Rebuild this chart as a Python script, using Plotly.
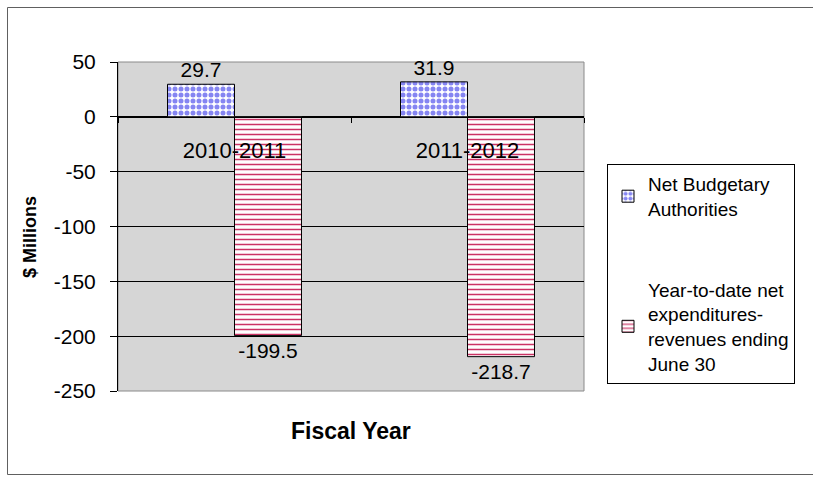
import plotly.graph_objects as go

categories = ["2010-2011", "2011-2012"]
series_names = ["Net Budgetary<br>Authorities",
                "Year-to-date net<br>expenditures-<br>revenues ending<br>June 30"]
net_budgetary = [29.7, 31.9]
ytd_net = [-199.5, -218.7]
y_ticks = [50, 0, -50, -100, -150, -200, -250]
y_tick_labels = [str(v) for v in y_ticks]

FONT = "Liberation Sans, Arial, sans-serif"
W, H = 813, 477
L, R, T, B = 118, 584, 62, 391

def px_x(p):
    return (p - L) / (R - L)

def px_y(p):
    return (B - p) / (B - T)

fig = go.Figure()
fig.add_trace(go.Bar(
    x=categories, y=net_budgetary, name=series_names[0], legendgroup="a",
    text=[f"{v:.1f}" for v in net_budgetary], textposition="outside",
    textfont=dict(size=21, color="black", family=FONT), cliponaxis=False,
    marker=dict(color="#9a9af5", line=dict(color="black", width=1),
                pattern=dict(shape=".", bgcolor="#ffffff", fgcolor="#8585f2",
                             size=6, solidity=0.55, fillmode="replace")),
))
fig.add_trace(go.Bar(
    x=categories, y=ytd_net, name=series_names[1], legendgroup="b",
    text=[f"{v:.1f}" for v in ytd_net], textposition="outside",
    textfont=dict(size=21, color="black", family=FONT), cliponaxis=False,
    marker=dict(color="#d04070", line=dict(color="black", width=1),
                pattern=dict(shape="-", bgcolor="#ffffff", fgcolor="#cc3366",
                             size=5, solidity=0.3, fillmode="replace")),
))

fig.update_layout(
    width=W, height=H,
    margin=dict(l=L, r=W - R, t=T, b=H - B, pad=0),
    paper_bgcolor="white", plot_bgcolor="#d6d6d6",
    barmode="group", bargap=0.425, bargroupgap=0,
    font=dict(family=FONT, color="black"),
    showlegend=True,
    legend=dict(x=px_x(607), y=px_y(164), xanchor="left", yanchor="top",
                bgcolor="white", bordercolor="black", borderwidth=1,
                font=dict(size=19, family=FONT), tracegroupgap=53,
                traceorder="grouped", itemwidth=30),
    xaxis=dict(type="category", categoryarray=categories, categoryorder="array",
               anchor="free", position=250 / 300, showline=True,
               linecolor="black", linewidth=1, ticks="outside",
               tickson="boundaries", ticklen=5, tickcolor="black",
               tickfont=dict(size=22, family=FONT), ticklabelstandoff=14,
               showgrid=False, zeroline=False),
    yaxis=dict(range=[-250, 50], tickvals=y_ticks, ticktext=y_tick_labels,
               showgrid=True,
               gridcolor="black", gridwidth=1, zeroline=True,
               zerolinecolor="black", zerolinewidth=1, showline=True,
               linecolor="black", linewidth=1, ticks="outside", ticklen=7,
               tickcolor="black", tickfont=dict(size=21, family=FONT),
               ticklabelstandoff=10),
    shapes=[
        dict(type="rect", xref="paper", yref="paper", x0=0, x1=1, y0=0, y1=1,
             line=dict(color="#8a8a8a", width=1), layer="below"),
        dict(type="rect", xref="paper", yref="paper",
             x0=px_x(7.5), x1=px_x(830), y0=px_y(474.5), y1=px_y(7.5),
             line=dict(color="#606060", width=1), layer="below"),
    ],
    annotations=[
        dict(text="<b>Fiscal Year</b>", xref="paper", yref="paper",
             x=0.5, y=px_y(431), xanchor="center", yanchor="middle",
             showarrow=False, font=dict(size=23, family=FONT)),
        dict(text="<b>$ Millions</b>", xref="paper", yref="paper",
             x=px_x(30), y=px_y(237), xanchor="center", yanchor="middle",
             textangle=-90, showarrow=False, font=dict(size=18, family=FONT)),
    ],
)

fig.write_html("out.html", config={"displayModeBar": False},
               post_script="document.body.style.margin='0';document.body.style.padding='0';")
